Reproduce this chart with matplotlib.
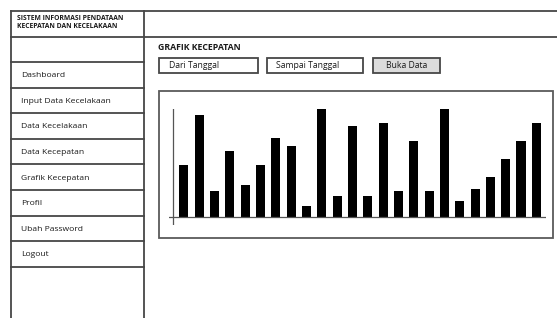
import matplotlib
matplotlib.use("Agg")
import matplotlib.pyplot as plt
from matplotlib.patches import Rectangle

plt.rcParams['font.family'] = ['Open Sans', 'DejaVu Sans']

# data
bar_values = [48, 94, 24, 61, 30, 48, 73, 66, 10, 100, 20, 84,
              20, 87, 24, 70, 24, 100, 15, 26, 37, 54, 70, 87]

header_lines = ["SISTEM INFORMASI PENDATAAN", "KECEPATAN DAN KECELAKAAN"]
menu_items = ["Dashboard", "Input Data Kecelakaan", "Data Kecelakaan",
              "Data Kecepatan", "Grafik Kecepatan", "Profil",
              "Ubah Password", "Logout"]
page_title = "GRAFIK KECEPATAN"
inputs = ["Dari Tanggal", "Sampai Tanggal"]
button_label = "Buka Data"

W, H = 557, 318
LC = "#474747"
LW = 1.3
TC = "#1a1a1a"

fig = plt.figure(figsize=(W / 100, H / 100), dpi=100)
bg = fig.add_axes([0, 0, 1, 1])
bg.set_xlim(0, W)
bg.set_ylim(H, 0)
bg.axis("off")

# frame of the page
bg.plot([11, W], [11, 11], color=LC, lw=LW)
bg.plot([11, W], [36.5, 36.5], color=LC, lw=LW)
bg.plot([11, 11], [11, H], color=LC, lw=LW)
bg.plot([144, 144], [11, H], color=LC, lw=LW)

bg.text(17, 18.5, header_lines[0], fontsize=4.9, fontweight="bold", va="center", color=TC)
bg.text(17, 27, header_lines[1], fontsize=4.9, fontweight="bold", va="center", color=TC)

# sidebar menu
row_top = 62
row_h = 25.6
bg.plot([11, 144], [row_top, row_top], color=LC, lw=LW)
for i, item in enumerate(menu_items):
    y0 = row_top + i * row_h
    bg.plot([11, 144], [y0 + row_h, y0 + row_h], color=LC, lw=LW)
    bg.text(21, y0 + row_h / 2 + 1, item, fontsize=6.1, va="center", color=TC)

# page title and controls
bg.text(158, 48, page_title, fontsize=6.3, fontweight="bold", va="center", color=TC)
bg.add_patch(Rectangle((159, 58), 99, 15, fill=False, ec=LC, lw=LW))
bg.add_patch(Rectangle((267, 58), 96, 15, fill=False, ec=LC, lw=LW))
bg.add_patch(Rectangle((373, 58), 67, 15, fc="#dcdcdc", ec=LC, lw=LW))
bg.text(169, 65.5, inputs[0], fontsize=6.2, va="center", color=TC)
bg.text(276, 65.5, inputs[1], fontsize=6.2, va="center", color=TC)
bg.text(406.5, 65.5, button_label, fontsize=6.2, va="center", ha="center", color=TC)

# chart box
bg.add_patch(Rectangle((159, 91), 394, 147, fill=False, ec="#5a5a5a", lw=LW))

# bar chart
ax = fig.add_axes([169 / W, (H - 225) / H, 377 / W, 116 / H])
x = list(range(len(bar_values)))
ax.bar(x, bar_values, width=0.59, color="black")
ax.set_xlim(-0.965, 23.63)
ax.set_ylim(-7.1, 100)
ax.axhline(0, color="#555555", lw=0.9)
ax.axvline(-0.724, color="#555555", lw=0.9)
ax.axis("off")

fig.savefig("out.png", dpi=100)
